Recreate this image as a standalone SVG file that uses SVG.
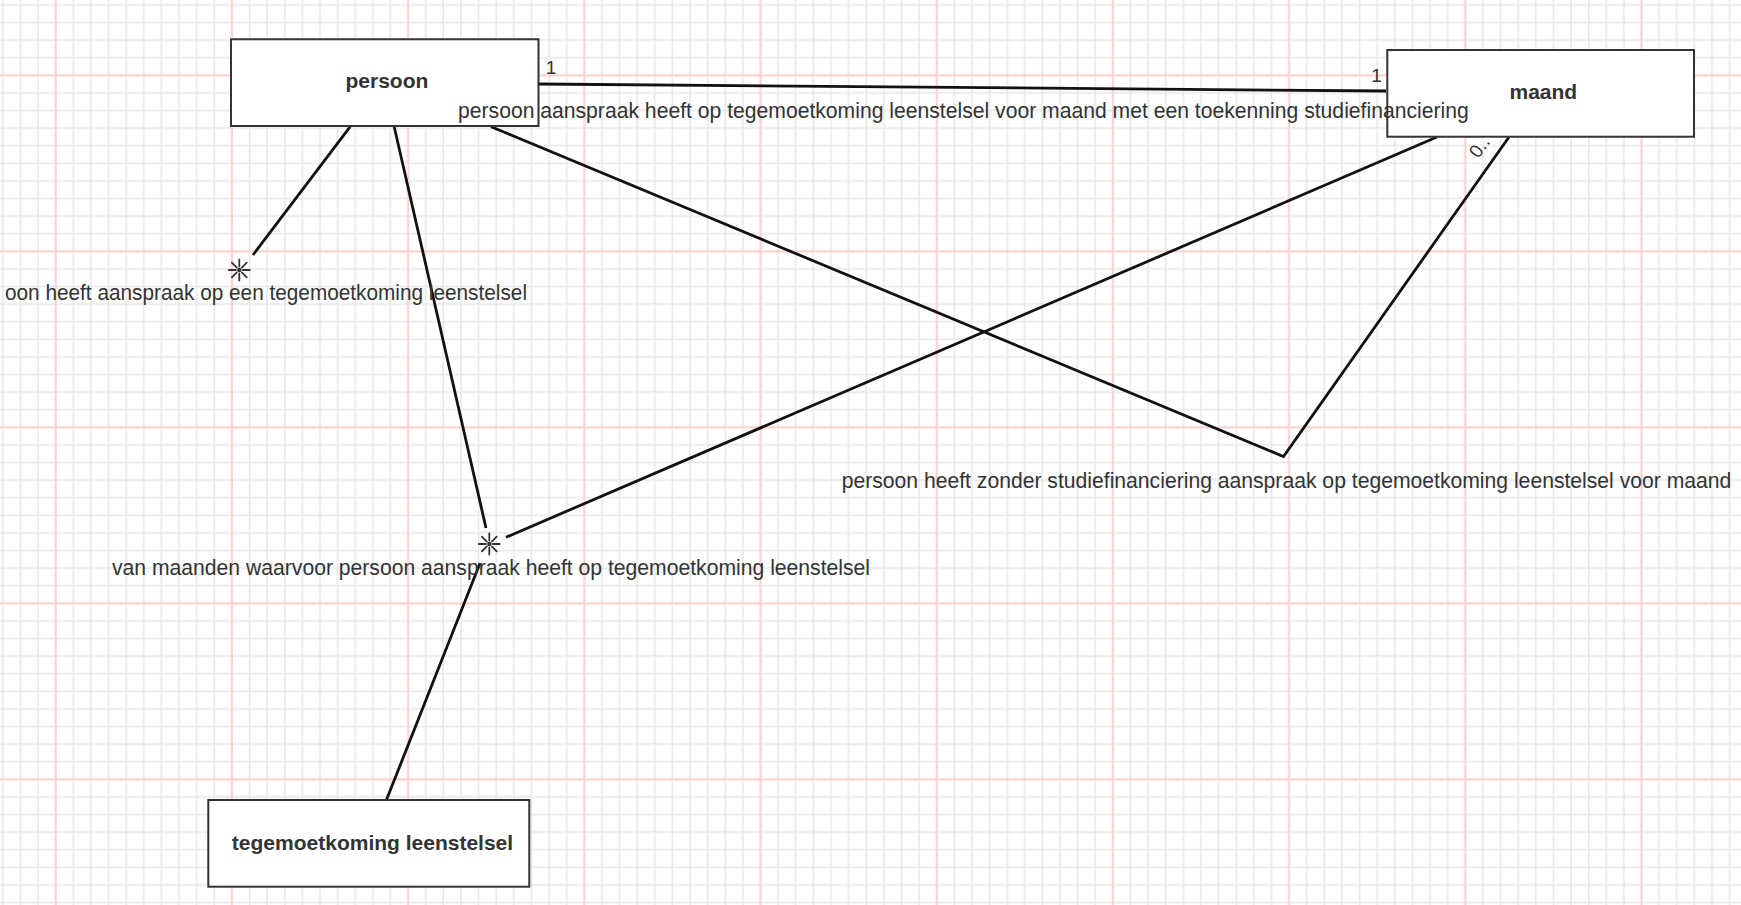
<svg xmlns="http://www.w3.org/2000/svg" xmlns:xlink="http://www.w3.org/1999/xlink" width="1741" height="905" viewBox="0 0 1741 905">
  <style>
    .node { fill: #ffffff; stroke: #333333; stroke-width: 2; }
    .ntext { font-family: "Liberation Sans", Arial, sans-serif; font-size: 21px; font-weight: bold; fill: #333333; text-anchor: middle; }
    .conn { fill: none; stroke: #111111; stroke-width: 2.8; stroke-linecap: butt; stroke-linejoin: miter; }
    .lbl { font-family: "Liberation Sans", Arial, sans-serif; font-size: 21.15px; fill: #333333; }
    .card { font-family: "Liberation Sans", Arial, sans-serif; font-size: 19px; fill: #333333; }
    .star { fill: none; stroke: #333333; stroke-width: 1.8; stroke-linecap: round; }
  </style>
  <defs>
    <pattern id="grid" patternUnits="userSpaceOnUse" x="46.89" y="66.5" width="176.2" height="176">
      <path d="M26.43 0V176M44.05 0V176M61.67 0V176M79.29 0V176M96.91 0V176M114.53 0V176M132.15 0V176M149.77 0V176M167.39 0V176M0 26.4H176.2M0 44H176.2M0 61.6H176.2M0 79.2H176.2M0 96.8H176.2M0 114.4H176.2M0 132H176.2M0 149.6H176.2M0 167.2H176.2" stroke="#e8e8e8" stroke-width="1.6" fill="none"/>
      <path d="M8.81 0V176M0 8.8H176.2" stroke="#fbd2d2" stroke-width="2.2" fill="none"/>
    </pattern>
    <g id="star">
      <path class="star" d="M3.5 0L10.5 0M-3.5 0L-10.5 0M0 3.5L0 10.5M0 -3.5L0 -10.5M2.47 2.47L7.42 7.42M-2.47 2.47L-7.42 7.42M-2.47 -2.47L-7.42 -7.42M2.47 -2.47L7.42 -7.42"/>
      <circle r="2.2" fill="#333333"/>
    </g>
  </defs>

  <rect x="0" y="0" width="1741" height="905" fill="#ffffff"/>
  <rect x="0" y="0" width="1741" height="905" fill="url(#grid)"/>

  <g id="connectors">
    <path class="conn" d="M538.5 84 L1386 91"/>
    <path class="conn" d="M350.2 126.7 L253 255"/>
    <path class="conn" d="M394.2 126.7 L486 528"/>
    <path class="conn" d="M506 537.3 L1437 137"/>
    <path class="conn" d="M480 563.3 L386.7 799.3"/>
    <path class="conn" d="M491 126.7 L1283.5 456.5 L1509 137"/>
    <use xlink:href="#star" href="#star" x="239.3" y="270"/>
    <use xlink:href="#star" href="#star" x="489.3" y="544"/>
    <text class="card" x="551" y="73.5" text-anchor="middle">1</text>
    <text class="card" x="1376.5" y="81.7" text-anchor="middle">1</text>
    <text class="card" x="1478.5" y="159.3" transform="rotate(-54.7 1478.5 159.3)">0..</text>
  </g>

  <g id="persoon">
    <rect class="node" x="231" y="39.3" width="307.5" height="86.7"/>
    <text class="ntext" x="386.9" y="88">persoon</text>
  </g>

  <g id="maand">
    <rect class="node" x="1387.3" y="50" width="306.7" height="86.7"/>
    <text class="ntext" x="1543.3" y="98.5">maand</text>
  </g>

  <g id="tegemoetkoming-leenstelsel">
    <rect class="node" x="208.3" y="800" width="321" height="86.7"/>
    <text class="ntext" x="372.5" y="849.5">tegemoetkoming leenstelsel</text>
  </g>

  <g id="connector-labels">
    <text class="lbl" x="458" y="118">persoon aanspraak heeft op tegemoetkoming leenstelsel voor maand met een toekenning studiefinanciering</text>
    <text class="lbl" x="5" y="300" textLength="522" lengthAdjust="spacingAndGlyphs">oon heeft aanspraak op een tegemoetkoming leenstelsel</text>
    <text class="lbl" x="841.7" y="488.3">persoon heeft zonder studiefinanciering aanspraak op tegemoetkoming leenstelsel voor maand</text>
    <text class="lbl" x="112" y="575">van maanden waarvoor persoon aanspraak heeft op tegemoetkoming leenstelsel</text>
  </g>
</svg>
